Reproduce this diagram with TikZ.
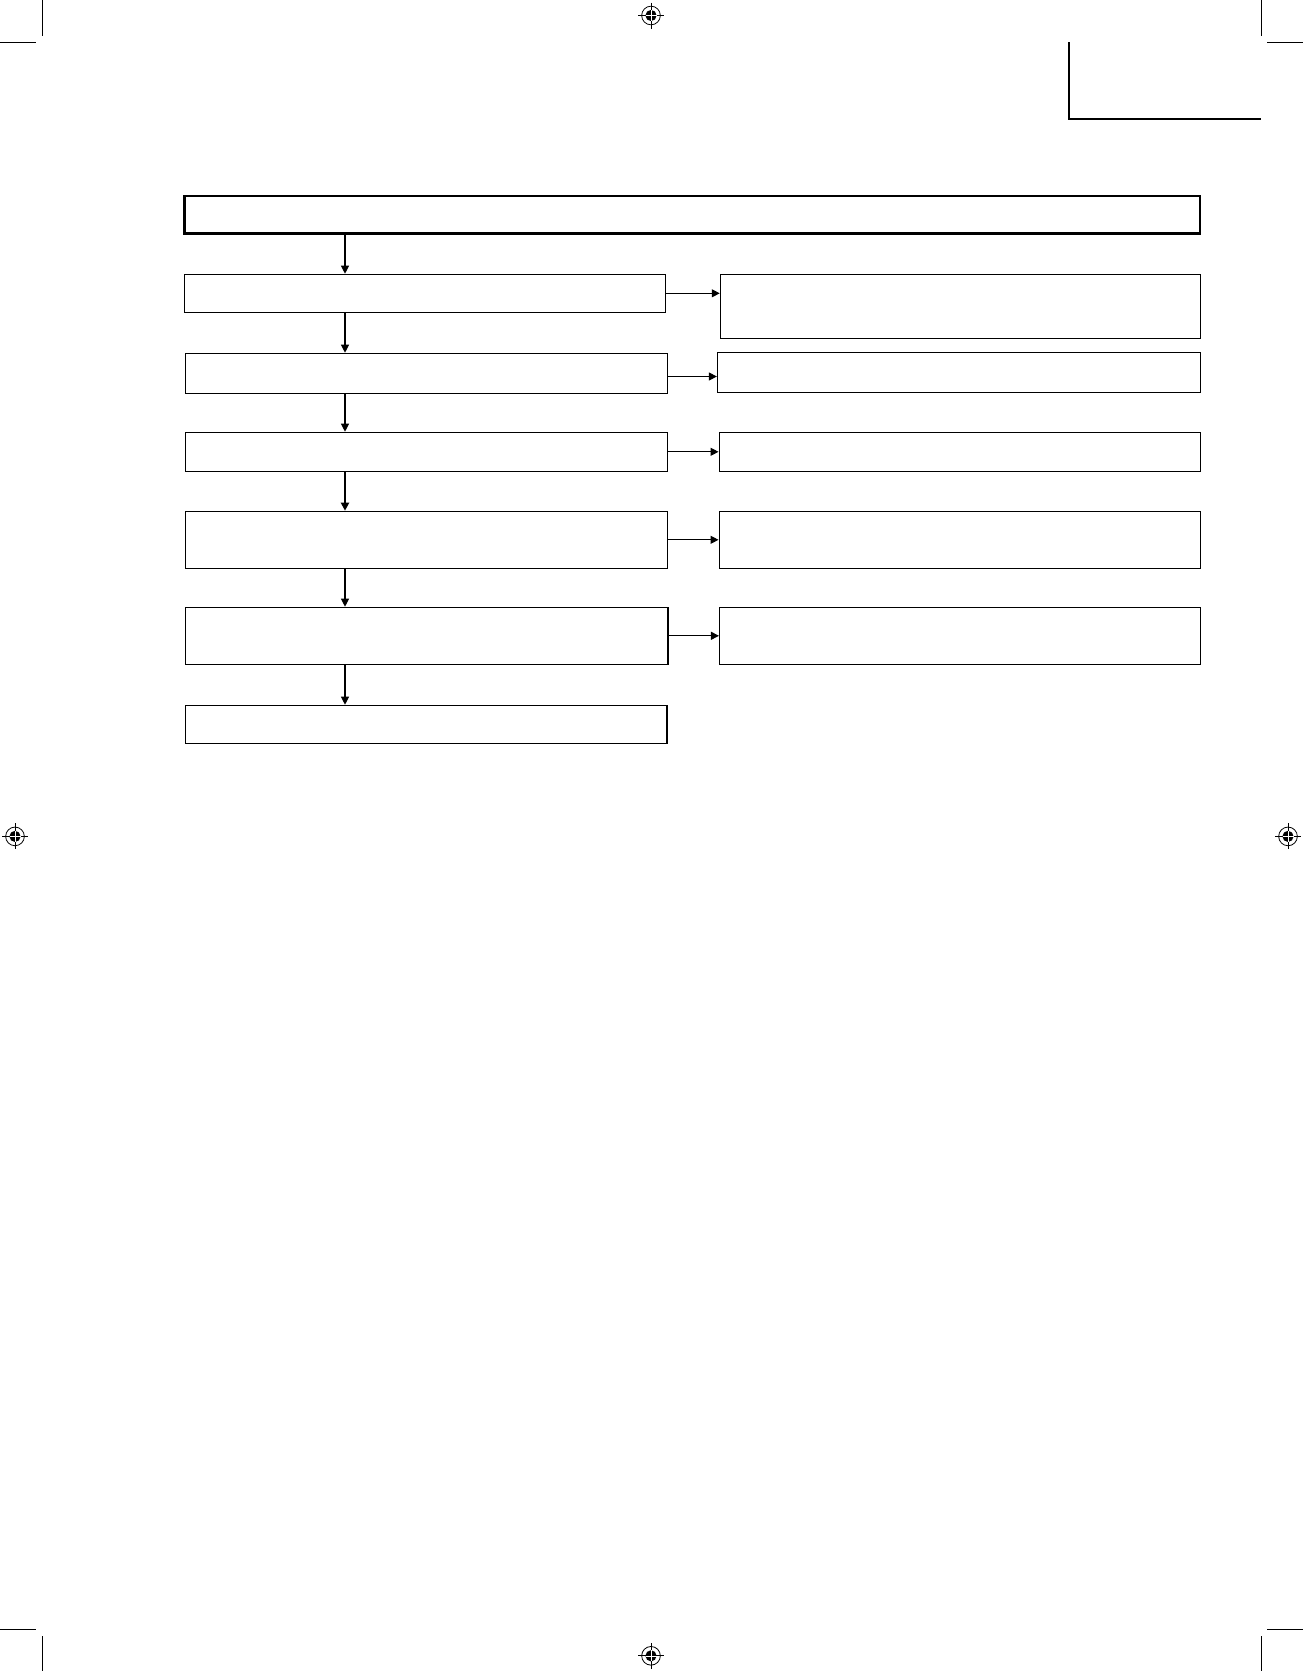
\documentclass[tikz,border=0pt]{standalone}
\usetikzlibrary{arrows.meta}

\tikzset{
  stepbox/.style={draw, line width=0.9pt, inner sep=0pt},
  leftbox/.style={stepbox, minimum width=362pt},
  rightbox/.style={stepbox, minimum width=361pt},
  flow/.style={line width=0.8pt, -{Triangle[length=6pt,width=6pt]}},
  cropline/.style={line width=0.75pt},
}

\begin{document}
\begin{tikzpicture}[x=0.75pt,y=-0.75pt]
        \useasboundingbox (0,0) rectangle (1303,1671);
        % crop marks
        \draw[cropline] (42.6,0) -- (42.6,35.5) (0,42) -- (36,42);
        \draw[cropline] (1261,0) -- (1261,35.5) (1267,42) -- (1303,42);
        \draw[cropline] (42.6,1671) -- (42.6,1635.5) (0,1629) -- (36,1629);
        \draw[cropline] (1261,1671) -- (1261,1635.5) (1267,1629) -- (1303,1629);
        % registration marks
        \foreach \mx/\my in {651/15.5, 15/836.4, 1288/836.4, 651/1655.8} {
          \draw[line width=0.6pt] (\mx,\my) circle[radius=7pt];
          \fill (\mx,\my) circle[radius=4.2pt];
          \draw[line width=0.6pt] (\mx-13,\my) -- (\mx+13,\my) (\mx,\my-13) -- (\mx,\my+13);
          \draw[white, line width=0.4pt] (\mx-5.5,\my) -- (\mx+5.5,\my) (\mx,\my-5.5) -- (\mx,\my+5.5);
        }
        % corner frame
        \draw[line width=1.7pt] (1069,42) -- (1069,119) -- (1261,119);

        % Define nodes
        \node[stepbox, line width=2pt, minimum width=761.6pt, minimum height=28.3pt] (head) at (692.3,214.9) {};
        \coordinate (spine) at (345,0);
        % left column
        \node[leftbox, minimum width=360.8pt, minimum height=28.5pt] (l1) at (425,293.3) {}; %
        \node[leftbox, minimum height=30pt] (l2) at (426.5,373.3) {}; %
        \node[leftbox, minimum height=29.25pt] (l3) at (426.5,451.8) {}; %
        \node[leftbox, minimum height=42.75pt] (l4) at (426.5,539.8) {}; %
        \node[leftbox, minimum height=42.75pt] (l5) at (426.6,635.8) {}; %
        \node[leftbox, minimum width=361pt, minimum height=28.5pt] (l6) at (426.4,724.3) {}; %
        % right column
        \node[rightbox, minimum width=360.2pt, minimum height=48pt] (r1) at (960.5,306.3) {}; %
        \node[rightbox, minimum width=362.3pt, minimum height=30pt] (r2) at (959,372.3) {}; %
        \node[rightbox, minimum height=29.25pt] (r3) at (959.8,451.8) {}; %
        \node[rightbox, minimum height=42.75pt] (r4) at (959.8,539.8) {}; %
        \node[rightbox, minimum width=360.5pt, minimum height=42.75pt] (r5) at (959.9,635.8) {}; %

        % edges
        \draw[flow] (head.south -| spine) -- (l1.north -| spine);
        \draw[flow] (l1.south -| spine) -- (l2.north -| spine);
        \draw[flow] (l2.south -| spine) -- (l3.north -| spine);
        \draw[flow, line width=1.5pt] (l3.south -| spine) -- (l4.north -| spine);
        \draw[flow] (l4.south -| spine) -- (l5.north -| spine);
        \draw[flow] (l5.south -| spine) -- (l6.north -| spine);
        \draw[flow] (l1.east) -- (l1.east -| r1.west);
        \draw[flow] ([yshift=-2.4pt]l2.east) -- ([yshift=-2.4pt]l2.east -| r2.west);
        \draw[flow] (l3.east) -- (l3.east -| r3.west);
        \draw[flow] (l4.east) -- (l4.east -| r4.west);
        \draw[flow] (l5.east) -- (l5.east -| r5.west);
\end{tikzpicture}
\end{document}
